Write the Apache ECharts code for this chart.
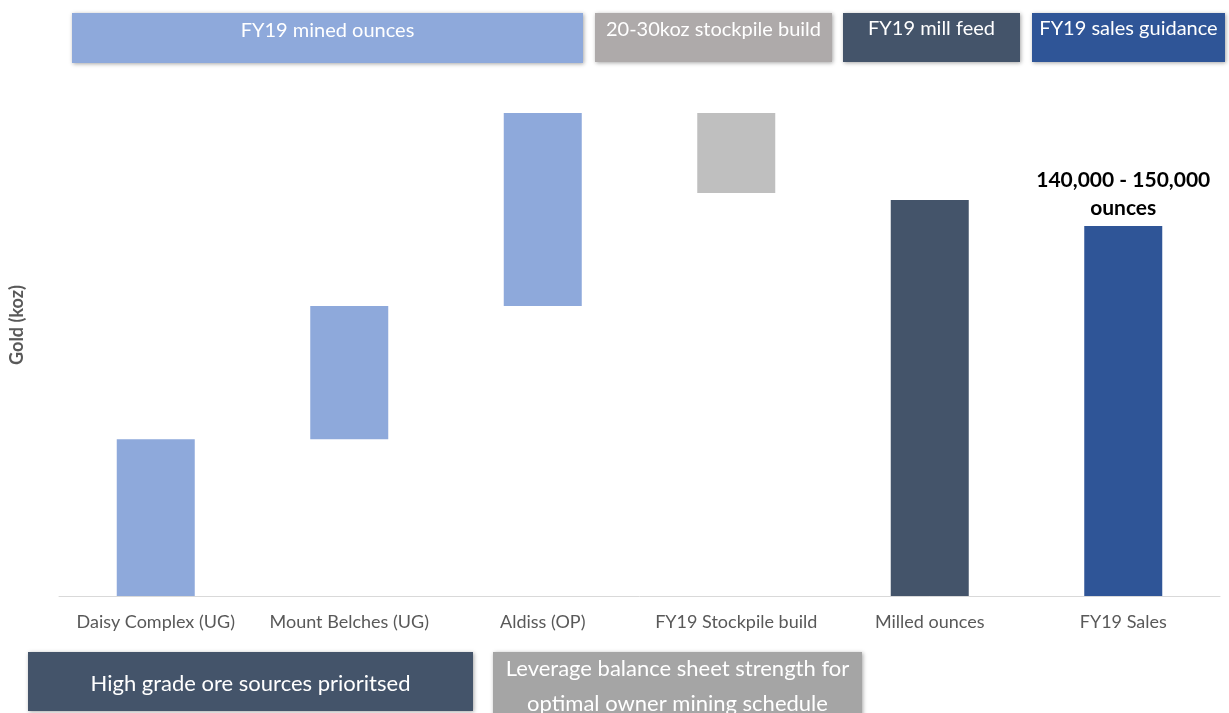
<!DOCTYPE html>
<html>
<head>
<meta charset="utf-8">
<script src="https://cdn.jsdelivr.net/npm/echarts@6/dist/echarts.min.js"></script>
<style>
  html, body { margin: 0; padding: 0; background: #fff; }
  #chart { width: 1229px; height: 713px; }
</style>
</head>
<body>
<div id="chart"></div>
<script>
// categories and bar extents in koz
const categories = ['Daisy Complex (UG)', 'Mount Belches (UG)', 'Aldiss (OP)', 'FY19 Stockpile build', 'Milled ounces', 'FY19 Sales'];
const barLow  = [0,    61.5,  113.7, 158,   0,     0];
const barHigh = [61.5, 113.7, 189.4, 189.4, 155.3, 145.1];
const barColors = ['#8EA9DB', '#8EA9DB', '#8EA9DB', '#BFBFBF', '#44546A', '#2F5597'];
const salesLabel = '140,000 - 150,000\nounces';

const font = 'Lato, "Open Sans", sans-serif';

const chart = echarts.init(document.getElementById('chart'));

// helper for the text boxes around the chart
function box(x, y, w, h, color, text, textY, size, lineH) {
  return {
    type: 'group',
    children: [
      {
        type: 'rect',
        shape: { x: x, y: y, width: w, height: h },
        style: { fill: color, shadowBlur: 4, shadowColor: 'rgba(0,0,0,0.35)', shadowOffsetX: 1, shadowOffsetY: 1 }
      },
      {
        type: 'text',
        x: x + w / 2,
        y: textY,
        style: {
          text: text, fill: '#fff', font: size + 'px ' + font,
          align: 'center', verticalAlign: 'middle', lineHeight: lineH || size
        }
      }
    ]
  };
}

chart.setOption({
  animation: false,
  grid: { left: 56, right: 9, top: 86, bottom: 117 },
  xAxis: {
    type: 'category',
    data: categories,
    axisLine: { lineStyle: { color: '#D9D9D9', width: 1 } },
    axisTick: { show: false },
    axisLabel: { color: '#595959', fontSize: 18, fontFamily: font, margin: 17, interval: 0 }
  },
  yAxis: {
    type: 'value',
    min: 0,
    max: 200,
    axisLine: { show: false },
    axisTick: { show: false },
    axisLabel: { show: false },
    splitLine: { show: false },
    name: 'Gold (koz)',
    nameLocation: 'middle',
    nameGap: 33,
    nameRotate: 90,
    nameTextStyle: { color: '#595959', fontSize: 18, fontWeight: 'bold', fontFamily: font, padding: [0, 0, 0, 32] }
  },
  series: [
    {
      type: 'bar',
      stack: 'w',
      silent: true,
      itemStyle: { color: 'transparent' },
      data: barLow,
      barWidth: 78
    },
    {
      type: 'bar',
      stack: 'w',
      barWidth: 78,
      data: barHigh.map((v, i) => ({
        value: v - barLow[i],
        itemStyle: { color: barColors[i] },
        label: i === 5 ? {
          show: true, position: 'top', formatter: salesLabel, distance: 4,
          color: '#000', fontSize: 21, fontWeight: 'bold', fontFamily: font, lineHeight: 28
        } : { show: false }
      }))
    }
  ],
  graphic: [
    box(72, 13, 511, 50, '#8EA9DB', 'FY19 mined ounces', 31, 20),
    box(595, 13, 237, 49, '#AEAAAA', '20-30koz stockpile build', 30, 20),
    box(843, 13, 177, 49, '#44546A', 'FY19 mill feed', 29, 20),
    box(1032, 13, 193, 49, '#2F5597', 'FY19 sales guidance', 29, 20),
    box(28, 652, 445, 59, '#44546A', 'High grade ore sources prioritsed', 684, 22),
    box(493, 652, 369, 64, '#A5A5A5', 'Leverage balance sheet strength for\noptimal owner mining schedule', 686, 22, 35)
  ]
});
</script>
</body>
</html>
